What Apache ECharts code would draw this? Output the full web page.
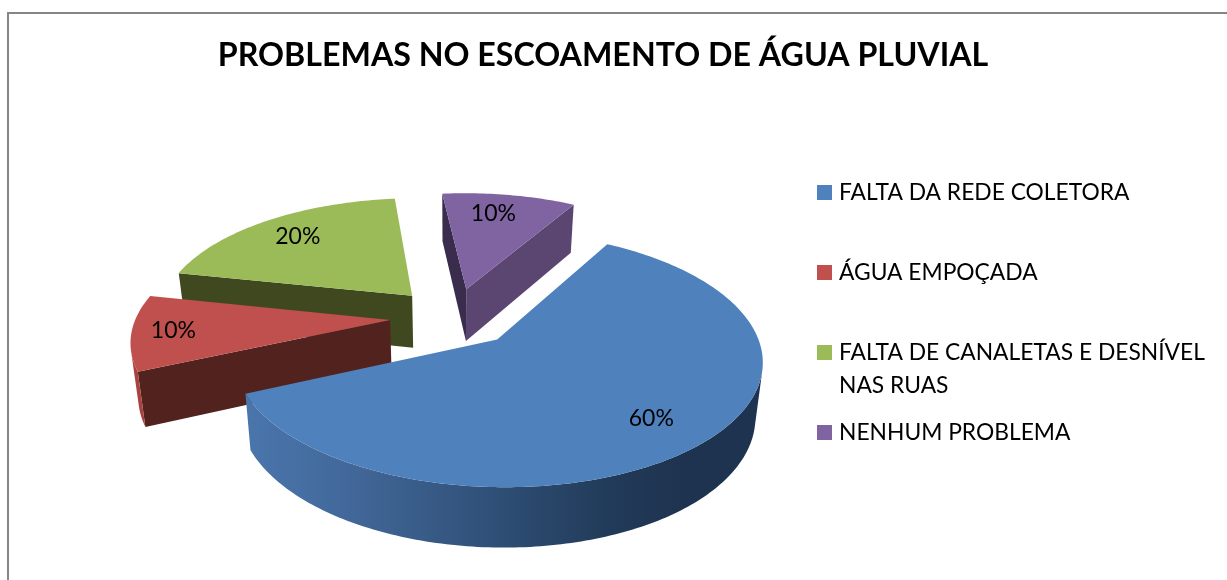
<!DOCTYPE html>
<html><head><meta charset="utf-8">
<style>html,body{margin:0;padding:0;background:#fff}#c{width:1227px;height:580px}</style>
<script src="https://cdn.jsdelivr.net/npm/echarts@6/dist/echarts.min.js"></script>
</head><body><div id="c"></div>
<script>
var titleText = 'PROBLEMAS NO ESCOAMENTO DE ÁGUA PLUVIAL';
var categories = ['FALTA DA REDE COLETORA','ÁGUA EMPOÇADA','FALTA DE CANALETAS E DESNÍVEL NAS RUAS','NENHUM PROBLEMA'];
var values = [60,10,20,10];

var topColors = ['#4f81bd','#c0504d','#9bbb59','#8064a2'];
var rimColors = [null,'#a8423f','#5c7030','#5b4571'];
var startWall = ['#2a4568','#52221f','#40481f','#3a2c4c'];
var endWall   = ['#2a4568','#52221f','#40481f','#5b4571'];
var labelFrac = [0.78,0.84,0.77,0.78];
var labelTurn = [0,0,0,-2.5];
var FONT = 'Lato';
var P = {cx:453.5,cy:317,a:254,b:118,k:0.15,h:53,shrink:0.024,explode:0.25,startDeg:30};

var total = values.reduce(function(s,v){return s+v;},0);
var angles = [], acc = P.startDeg;
values.forEach(function(v){var d=v/total*360;angles.push([acc,acc+d]);acc+=d;});

function project(X,Y,z){
  var w=1+P.k*Y, s=1-P.shrink*z;
  return [P.cx+P.a*X/w*s, P.cy-P.b*Y/w*s+z*P.h/w];
}
function pt(i,deg,r,z){
  var mid=(angles[i][0]+angles[i][1])/2*Math.PI/180, t=deg*Math.PI/180;
  return project(P.explode*Math.sin(mid)+r*Math.sin(t), P.explode*Math.cos(mid)+r*Math.cos(t), z);
}
function area(p){var s=0;for(var j=0;j<p.length;j++){var q=p[(j+1)%p.length];s+=p[j][0]*q[1]-q[0]*p[j][1];}return s;}
function poly(points,fill){return {type:'polygon',shape:{points:points},style:{fill:fill,stroke:null}};}

function renderSlice(i){
  return function(params,api){
    var share=api.value(0)/total;
    var a0=angles[i][0], a1=a0+share*360, ch=[];
    var sw=[pt(i,a0,0,0),pt(i,a0,1,0),pt(i,a0,1,1),pt(i,a0,0,1)];
    if(area(sw)<0) ch.push(poly(sw,startWall[i]));
    var ew=[pt(i,a1,1,0),pt(i,a1,0,0),pt(i,a1,0,1),pt(i,a1,1,1)];
    if(area(ew)<0) ch.push(poly(ew,endWall[i]));
    var run=[],runs=[];
    for(var d=a0;d<a1;d+=1){
      var e=Math.min(d+1,a1);
      var q=[pt(i,d,1,0),pt(i,e,1,0),pt(i,e,1,1),pt(i,d,1,1)];
      if(area(q)<0){ if(!run.length) run.push(d); run.push(e);} 
      else if(run.length){runs.push(run);run=[];}
    }
    if(run.length) runs.push(run);
    runs.forEach(function(r){
      var top=r.map(function(x){return pt(i,x,1,0);});
      var bot=r.slice().reverse().map(function(x){return pt(i,x,1,1);});
      var fill=rimColors[i]||new echarts.graphic.LinearGradient(0,0,1,0,[
        {offset:0,color:'#4a76ac'},{offset:0.2,color:'#42689a'},{offset:0.45,color:'#31527a'},
        {offset:0.7,color:'#223b5a'},{offset:0.85,color:'#1e334f'},{offset:1,color:'#1e334f'}]);
      ch.push(poly(top.concat(bot),fill));
    });
    var face=[pt(i,a0,0,0)];
    for(var f=a0;f<a1;f+=1) face.push(pt(i,f,1,0));
    face.push(pt(i,a1,1,0));
    ch.push(poly(face,topColors[i]));
    var lp=pt(i,(a0+a1)/2+labelTurn[i],labelFrac[i],0);
    ch.push({type:'text',x:lp[0],y:lp[1],style:{text:Math.round(share*100)+'%',font:'23px '+FONT,fill:'#000',align:'center',verticalAlign:'middle'}});
    return {type:'group',children:ch};
  };
}

var series=[3,2,1,0].map(function(i,order){
  return {type:'custom',name:categories[i],coordinateSystem:'none',z:2+order,
    silent:true,animation:false,clip:false,itemStyle:{color:topColors[i]},
    renderItem:renderSlice(i),data:[[values[i]]]};
});

var legendTops=[176,256,303,416];
var legends=categories.map(function(name,i){
  return {show:true,orient:'vertical',left:817,top:legendTops[i],padding:0,itemWidth:15,itemHeight:15,itemGap:0,
    icon:'rect',selectedMode:false,
    data:[{name:name,itemStyle:{color:topColors[i]}}],
    formatter:function(n){return n.length>30?'\nFALTA DE CANALETAS E DESNÍVEL\nNAS RUAS':n;},
    textStyle:{fontFamily:FONT,fontSize:22.8,color:'#000',padding:[0,0,0,2],lineHeight:33}};
});

var chart=echarts.init(document.getElementById('c'),null,{renderer:'canvas'});
chart.setOption({
  backgroundColor:'#fff',animation:false,
  title:{text:titleText,left:598,top:35,textAlign:'center',textStyle:{fontFamily:FONT,fontWeight:'bold',fontSize:32.2,color:'#000'}},
  legend:legends,
  graphic:[{type:'polyline',z:0,silent:true,shape:{points:[[8,590],[8,13],[1240,13]]},style:{stroke:'#868686',lineWidth:2,fill:null}}],
  series:series
});
</script></body></html>
